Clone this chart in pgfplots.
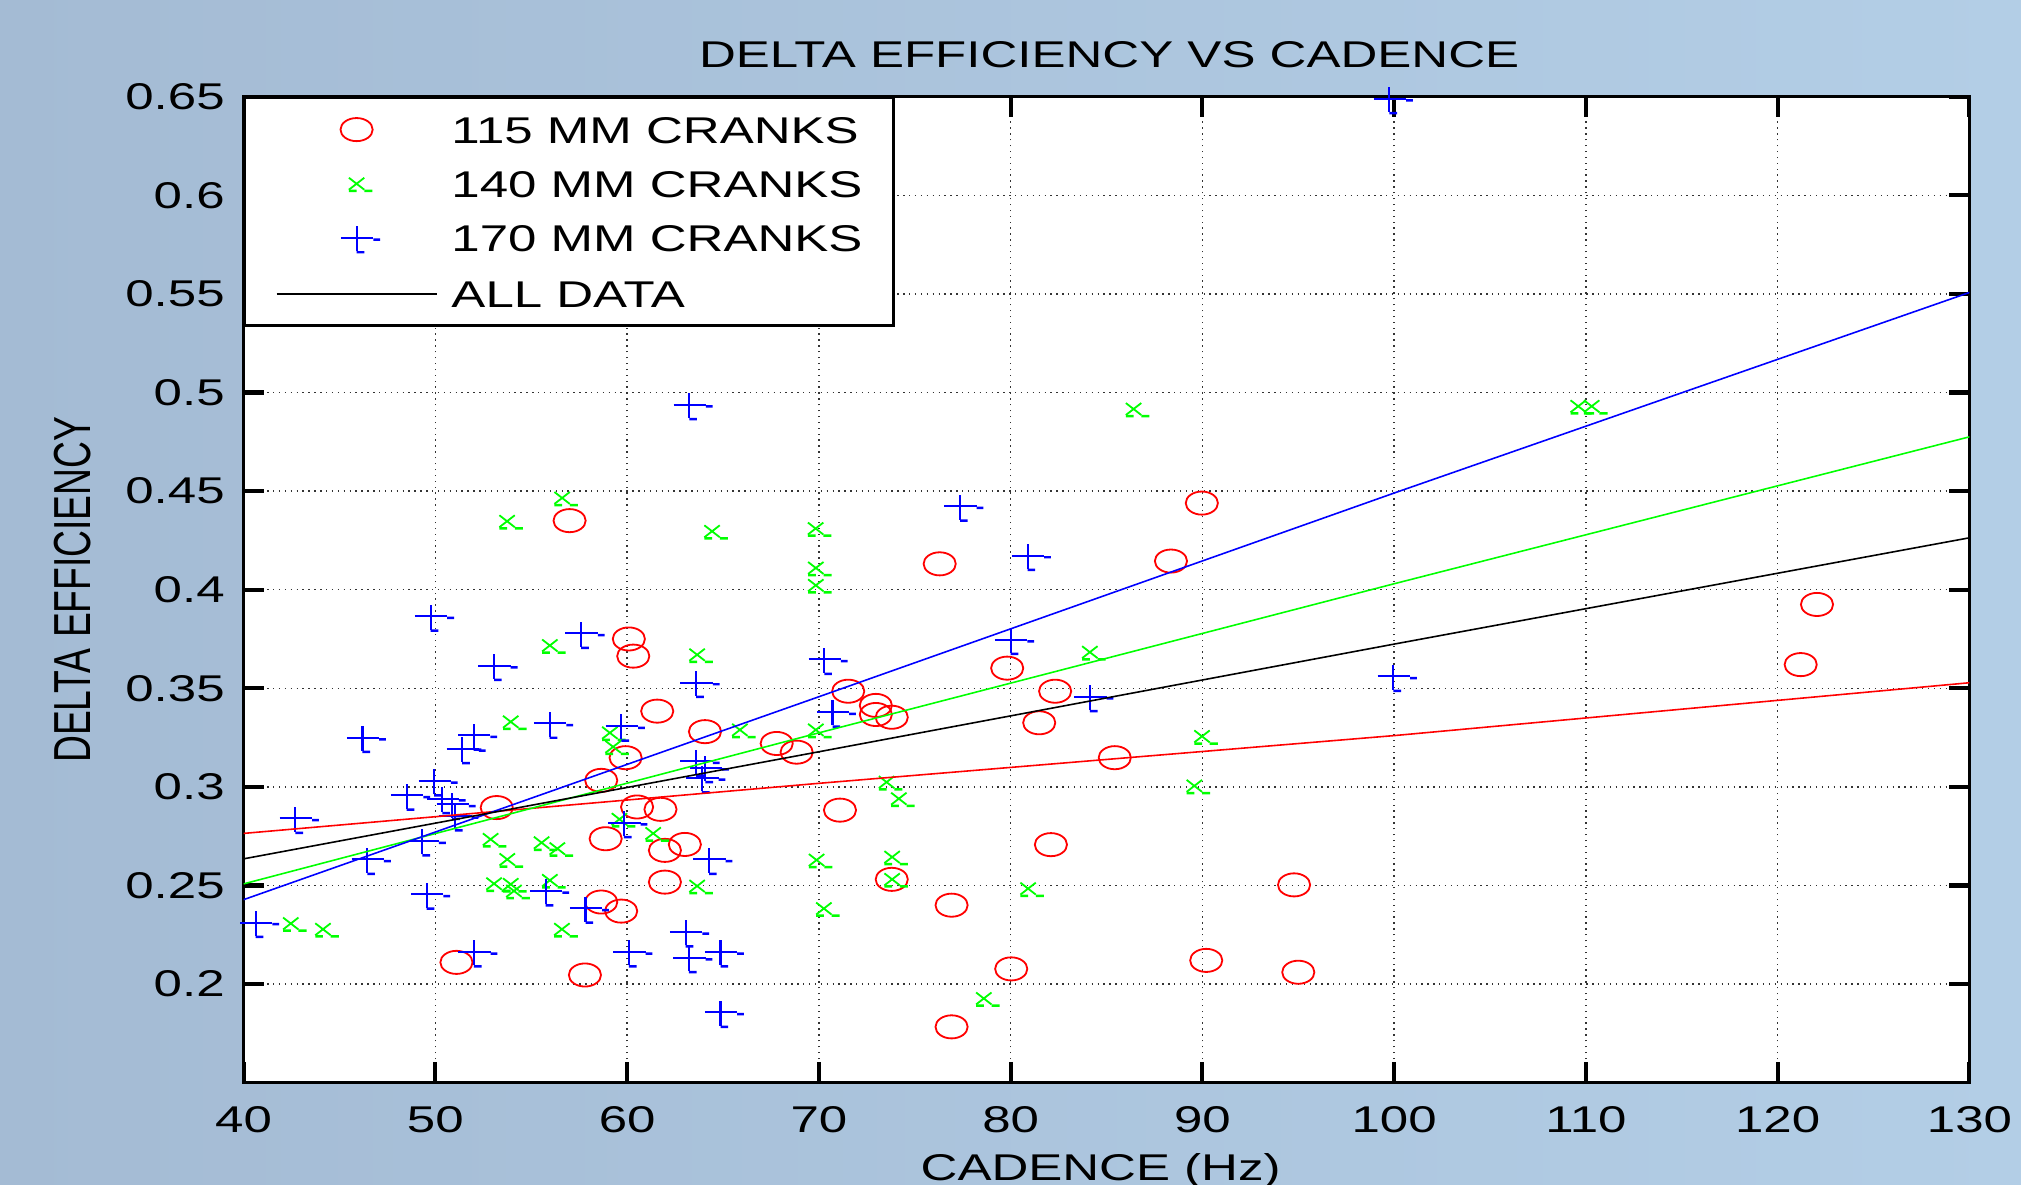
\documentclass[border=0pt]{standalone}
\usepackage{fontspec}
\setmainfont{Liberation Sans}[FakeStretch=1.37]
\newfontfamily\ylabfamily{Liberation Sans}[FakeStretch=0.715]
\usepackage{pgfplots}
\pgfplotsset{compat=1.18}

\definecolor{bgleft}{RGB}{164,187,212}
\definecolor{bgright}{RGB}{179,206,230}

% marks drawn like the exported figure (with the small stray bars)
\pgfdeclareplotmark{ring}{%
  \pgfpathellipse{\pgfpointorigin}{\pgfpoint{3.55pt}{0pt}}{\pgfpoint{0pt}{2.55pt}}%
  \pgfusepathqstroke}
\pgfdeclareplotmark{xbar}{%
  \pgfpathmoveto{\pgfpoint{-1.7pt}{-1.32pt}}\pgfpathlineto{\pgfpoint{1.7pt}{1.32pt}}%
  \pgfpathmoveto{\pgfpoint{-1.7pt}{1.32pt}}\pgfpathlineto{\pgfpoint{1.7pt}{-1.32pt}}%
  \pgfusepathqstroke
  \pgfpathrectangle{\pgfpoint{-1.7pt}{-1.85pt}}{\pgfpoint{1.7pt}{0.55pt}}%
  \pgfpathrectangle{\pgfpoint{1.7pt}{-1.85pt}}{\pgfpoint{1.8pt}{0.55pt}}%
  \pgfusepathqfill}
\pgfdeclareplotmark{plusbar}{%
  \pgfpathmoveto{\pgfpoint{-3.46pt}{0pt}}\pgfpathlineto{\pgfpoint{3.68pt}{0pt}}%
  \pgfpathmoveto{\pgfpoint{0pt}{-2.94pt}}\pgfpathlineto{\pgfpoint{0pt}{2.57pt}}%
  \pgfusepathqstroke
  \pgfpathrectangle{\pgfpoint{3.68pt}{-0.65pt}}{\pgfpoint{1.5pt}{0.55pt}}%
  \pgfpathrectangle{\pgfpoint{0pt}{-3.45pt}}{\pgfpoint{1.7pt}{0.55pt}}%
  \pgfusepathqfill}

\begin{document}
\fontsize{8.22pt}{10pt}\selectfont
\begin{tikzpicture}
\path[use as bounding box, clip] (-1.89cm,-0.79cm) rectangle (13.79cm,8.40cm);
\shade[left color=bgleft, right color=bgright] (-1.89cm,-0.79cm) rectangle (13.79cm,8.40cm);
\begin{axis}[
  scale only axis,
  width=13.39cm, height=7.65cm,
  at={(0,0)}, anchor=south west,
  xmin=40, xmax=130,
  ymin=0.15, ymax=0.65,
  xtick={40,50,...,130},
  ytick={0.2,0.25,0.3,0.35,0.4,0.45,0.5,0.55,0.6,0.65},
  grid=major,
  major grid style={black!80, line width=0.3pt, densely dotted},
  tick align=inside,
  major tick length=0.16cm,
  every tick/.style={black, line width=0.9pt},
  axis line style={black, line width=0.8pt},
  axis background/.style={fill=white},
  clip mode=individual,
  /pgf/number format/assume math mode=true,
  yticklabel style={/pgf/number format/fixed, /pgf/number format/precision=2,
    anchor=east, inner sep=0pt, xshift=-0.14cm},
  xticklabel style={anchor=north, inner sep=0pt, yshift=-0.18cm},
  title={DELTA EFFICIENCY VS CADENCE},
  every axis title/.style={at={(axis description cs:0.5015,1)}, anchor=base,
    yshift=0.23cm, inner sep=0pt},
  xlabel={CADENCE (Hz)},
  every axis x label/.style={at={(axis description cs:0.4966,0)}, anchor=north,
    yshift=-0.545cm, inner sep=0pt},
  ylabel={DELTA EFFICIENCY},
  every axis y label/.style={at={(axis description cs:-0.0889,0.5)}, anchor=base,
    rotate=90, inner sep=0pt, font=\ylabfamily\fontsize{11.5pt}{12pt}\selectfont},
  legend image code/.code={\draw[mark repeat=2,mark phase=2]
    plot coordinates {(0cm,0cm) (0.62cm,0cm) (1.24cm,0cm)};},
  legend cell align=left,
  legend style={at={(axis description cs:0,1)}, anchor=north west,
    draw=black, line width=0.6pt, fill=white,
    inner xsep=0.24cm, inner ysep=0.14cm, row sep=0.21cm, column sep=0.11cm,
    nodes={inner sep=0pt, text height=0.21cm, text depth=0pt}},
]

% 115 mm cranks
\addplot[only marks, color=red, mark=ring, mark options={line width=0.4pt}] coordinates {
  (51.1,0.211) (53.2,0.2895) (57.8,0.2046) (57.0,0.435) (58.65,0.3033)
  (58.88,0.2737) (58.65,0.2416) (59.69,0.237) (60.09,0.375) (60.32,0.3663)
  (59.92,0.3148) (60.52,0.2898) (61.57,0.3384) (61.74,0.2886) (61.97,0.2678)
  (61.97,0.2517) (63.01,0.2708) (64.06,0.328) (67.8,0.322) (68.84,0.3176)
  (71.1,0.2882) (71.53,0.3485) (72.97,0.3413) (72.97,0.3367) (73.8,0.3353)
  (73.8,0.2531) (76.3,0.4131) (76.92,0.24) (76.92,0.1783) (79.82,0.3602)
  (80.03,0.2077) (81.49,0.3325) (82.32,0.3485) (82.1,0.2707) (85.43,0.3148)
  (88.36,0.4145) (89.97,0.4439) (90.2,0.212) (94.78,0.2503) (95.0,0.206)
  (121.2,0.362) (122.05,0.3925)
};
\addlegendentry{115 MM CRANKS}

% 140 mm cranks
\addplot[only marks, color=green, mark=xbar, mark options={line width=0.4pt}] coordinates {
  (42.46,0.2307) (44.14,0.2278) (52.88,0.2734) (53.75,0.2632) (53.06,0.2509)
  (53.93,0.2506) (54.1,0.2472) (55.54,0.2717) (56.36,0.2687) (55.97,0.2526)
  (56.6,0.2278) (53.74,0.4347) (53.93,0.333) (55.97,0.3717) (56.61,0.4465)
  (59.1,0.3274) (59.27,0.3203) (59.6,0.2836) (61.36,0.2764) (63.65,0.2497)
  (63.65,0.367) (64.43,0.4296) (65.88,0.3289) (69.83,0.431) (69.84,0.411)
  (69.84,0.4022) (69.84,0.3289) (69.88,0.2629) (70.26,0.2383) (73.53,0.3024)
  (74.17,0.294) (73.82,0.2644) (73.82,0.2531) (78.6,0.1927) (80.91,0.2484)
  (84.13,0.3683) (86.41,0.4916) (89.58,0.3005) (89.98,0.3256) (109.6,0.493)
  (110.3,0.493)
};
\addlegendentry{140 MM CRANKS}

% 170 mm cranks
\addplot[only marks, color=blue, mark=plusbar, mark options={line width=0.45pt}] coordinates {
  (40.63,0.2312) (42.7,0.284) (46.2,0.325) (46.45,0.2632) (48.5,0.2957)
  (49.75,0.3865) (49.32,0.2725) (49.55,0.2455) (49.94,0.303) (50.36,0.294)
  (50.88,0.2911) (51.02,0.2852) (51.4,0.3193) (52.0,0.3262) (52.01,0.2163)
  (53.06,0.3615) (55.96,0.3322) (55.75,0.2472) (57.83,0.2384) (57.6,0.3778)
  (59.7,0.3308) (59.83,0.2818) (60.09,0.2163) (63.24,0.4938) (63.6,0.3529)
  (63.6,0.313) (64.08,0.3097) (63.9,0.3045) (63.05,0.2264) (63.22,0.2134)
  (64.27,0.2632) (64.87,0.2163) (64.87,0.1856) (70.28,0.3646) (70.71,0.3379)
  (77.36,0.4423) (80.0,0.3747) (80.88,0.4173) (84.13,0.3457) (99.75,0.649)
  (99.96,0.356)
};
\addlegendentry{170 MM CRANKS}

% fitted lines
\addplot[red, line width=0.35pt, forget plot] coordinates {
  (40,0.2764) (70,0.3018) (100,0.326) (130,0.3528)};
\addplot[green, line width=0.35pt, forget plot] coordinates {
  (40,0.2508) (70,0.3274) (100,0.403) (130,0.4775)};
\addplot[blue, line width=0.35pt, forget plot] coordinates {
  (40,0.2428) (70,0.3457) (100,0.449) (130,0.5507)};
\addplot[black, line width=0.35pt] coordinates {
  (40,0.2635) (70,0.3178) (100,0.3724) (130,0.4263)};
\addlegendentry{ALL DATA}

\end{axis}
\end{tikzpicture}
\end{document}
